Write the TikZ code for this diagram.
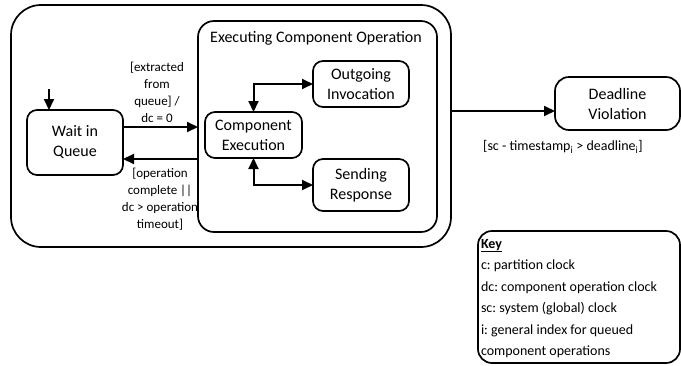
\documentclass[tikz,border=0pt]{standalone}
\usepackage{fontspec}
\setmainfont{Carlito}
\usetikzlibrary{arrows.meta}
\frenchspacing
\begin{document}
\begin{tikzpicture}[x=1pt,y=-1pt,
  every node/.style={inner sep=0pt, outer sep=0pt},
  box/.style={draw, line width=1.7pt, rounded corners=#1, align=center,
    font=\fontsize{16}{20}\selectfont},
  box/.default=10pt,
  arr/.style={line width=2pt, -{Triangle[length=11pt,width=10pt]}},
  darr/.style={line width=2pt, {Triangle[length=11pt,width=10pt]}-{Triangle[length=11pt,width=10pt]}},
  lbl/.style={align=center, font=\fontsize{13}{17}\selectfont},
]
\useasboundingbox (0,0) rectangle (681,365);

% composite states
\node[box=30pt, minimum width=440pt, minimum height=242pt] (outer) at (231,126) {};
\node[box=16pt, minimum width=239pt, minimum height=211pt] (exec) at (317.5,126.5) {};
\node[font=\fontsize{16}{20}\selectfont, anchor=base] (exectitle) at (316,42) {Executing Component Operation};

% simple states
\node[box, minimum width=96pt, minimum height=65pt] (wait) at (75,142.5) {Wait in\\Queue};
\node[box, minimum width=97pt, minimum height=46pt] (comp) at (253.5,135) {Component\\Execution};
\node[box, minimum width=96pt, minimum height=46pt] (out) at (361,84) {Outgoing\\Invocation};
\node[box, minimum width=96pt, minimum height=52pt] (send) at (361,185) {Sending\\Response};
\node[box=14pt, minimum width=125pt, minimum height=53pt] (dead) at (617.5,103.5) {Deadline\\Violation};

% initial transition
\coordinate (init) at (49,89);
\draw[arr] (init) -- (wait.north -| init);

% transitions between queue and execution
\draw[arr] (wait.east |- 0,127) -- (exec.west |- 0,127);
\draw[arr] (exec.west |- 0,159) -- (wait.east |- 0,159);
\node[lbl] (l1) at (157,92) {[extracted\\from\\queue] /\\dc = 0};
\node[lbl] (l2) at (160,199) {[operation\\complete ||\\dc > operation\\timeout]};

% internal transitions
\draw[darr] (comp.north) |- (out.west);
\draw[darr] (comp.south) |- (send.west);

% deadline
\draw[arr] (outer.east |- 0,111) -- (dead.west |- 0,111);
\node[font=\fontsize{14}{17}\selectfont] (l3) at (563,147) {[sc - timestamp\textsubscript{i} > deadline\textsubscript{i}]};

% key
\node[draw, line width=1.7pt, rounded corners=14pt, minimum width=202pt, minimum height=132pt] (key) at (579,297) {};
\node[anchor=north west, align=left, font=\fontsize{14}{21.5}\selectfont] (keytext) at (481,239)
  {\textbf{\underline{Key}}\\c: partition clock\\dc: component operation clock\\sc: system (global) clock\\i: general index for queued\\component operations};
\end{tikzpicture}
\end{document}
